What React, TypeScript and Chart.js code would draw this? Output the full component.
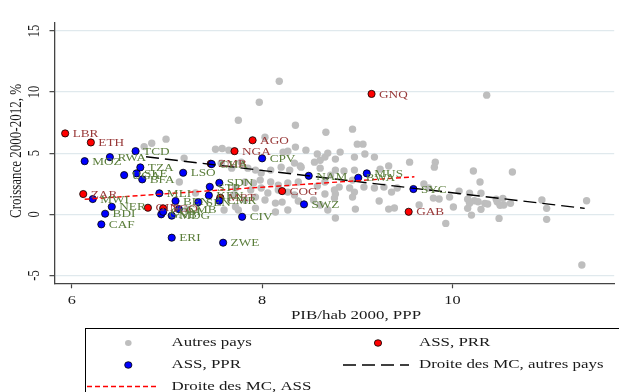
import React, { useEffect, useRef } from "react";
import { Chart, registerables } from "chart.js";

Chart.register(...registerables);

// ---------- data ----------
const xTicks = [6, 8, 10];
const yTicks = [-5, 0, 5, 10, 15];

const xTitle = "PIB/hab 2000, PPP";
const yTitle = "Croissance 2000-2012, %";

const legendLabels = [
  "Autres pays",
  "ASS, PRR",
  "ASS, PPR",
  "Droite des MC, autres pays",
  "Droite des MC, ASS",
];

// Autres pays (grey)
const otherX = [
  8.18, 10.36, 7.97, 7.75, 8.35, 8.67, 8.95, 8.03, 6.99, 6.84, 6.76, 7.51, 7.58, 7.65, 9.0, 9.06,
  8.35, 8.27, 8.22, 8.82, 8.58, 8.66, 8.77, 8.97, 9.08, 9.18, 8.55, 8.4, 8.86, 8.97, 9.33, 9.24,
  9.55, 9.82, 9.81, 10.22, 10.63, 10.29, 8.72, 8.66, 8.58, 8.81, 8.95, 8.92, 8.97, 9.07, 9.18, 9.28,
  9.36, 9.42, 9.7, 9.75, 8.77, 8.95, 8.66, 8.21, 8.38, 9.23, 9.33, 9.39, 8.98, 8.77, 9.65, 9.8,
  9.86, 9.97, 10.07, 10.01, 10.18, 10.3, 10.16, 10.23, 10.18, 10.27, 10.34, 10.37, 10.46, 10.53, 10.47, 10.61,
  10.54, 10.16, 10.3, 10.5, 10.2, 9.93, 10.49, 10.94, 10.99, 10.99, 11.41, 11.36, 7.18, 7.13, 7.3, 7.72,
  7.21, 7.57, 7.78, 7.85, 7.93, 7.99, 8.09, 8.2, 8.29, 8.34, 8.41, 8.46, 8.61, 8.69, 8.61, 8.77,
  7.68, 7.82, 7.91, 7.98, 8.09, 8.17, 8.27, 8.38, 7.72, 7.88, 7.99, 8.06, 8.17, 8.27, 8.34, 8.76,
  7.82, 7.93, 8.03, 8.14, 8.54, 8.76, 8.61, 8.69, 7.93, 8.14, 8.27, 7.7, 7.75, 7.6,
];
const otherY = [
  10.89, 9.75, 9.17, 7.69, 7.29, 6.72, 6.97, 6.31, 6.15, 5.82, 5.54, 5.33, 5.38, 5.25, 5.74, 5.74,
  5.5, 5.17, 5.09, 5.09, 4.93, 4.68, 4.52, 4.68, 4.93, 4.68, 4.27, 3.95, 3.54, 3.62, 3.95, 3.7,
  4.27, 4.27, 3.86, 3.54, 3.46, 2.64, 3.21, 2.64, 2.31, 2.23, 2.8, 2.15, 1.82, 2.23, 2.15, 2.23,
  1.82, 2.15, 2.48, 2.15, 1.66, 1.41, 1.66, 1.0, 1.09, 1.09, 0.43, 0.52, 0.43, -0.3, 0.76, 1.33,
  1.25, 1.41, 1.9, 0.6, 1.72, 1.72, 1.23, 1.11, 0.9, 1.03, 0.9, 0.84, 1.23, 1.31, 1.03, 0.9,
  0.76, 0.49, 0.41, 0.74, -0.06, -0.74, -0.33, 1.17, 0.49, -0.41, 1.11, -4.14, 4.6, 2.64, 1.74, 0.62,
  0.43, 4.18, 4.27, 3.78, 3.62, 3.38, 3.62, 3.86, 3.62, 4.19, 3.86, 5.25, 4.43, 5.01, 3.78, 3.62,
  3.78, 2.64, 2.56, 2.8, 2.64, 2.39, 2.56, 2.64, 2.15, 1.99, 2.15, 1.74, 1.99, 1.82, 1.58, 1.99,
  1.17, 1.41, 1.17, 0.92, 1.17, 1.33, 0.76, 0.35, 0.51, 0.19, 0.35, 1.58, 0.35, 0.35,
];

// ASS, PRR (red)
const prrCodes = ["LBR", "ETH", "ZAR", "GIN", "TGO", "ZMB", "MRT", "NGA", "AGO", "COG", "GNQ", "GAB"];
const prrX = [5.93, 6.2, 6.12, 6.8, 6.96, 7.46, 7.56, 7.71, 7.9, 8.21, 9.15, 9.54];
const prrY = [6.62, 5.88, 1.66, 0.54, 0.49, 4.14, 1.36, 5.17, 6.06, 1.9, 9.85, 0.21];

// ASS, PPR (blue)
const pprCodes = [
  "TCD", "RWA", "MOZ", "TZA", "SLE", "UGA", "BFA", "LSO", "MWI", "MLI", "NER", "BDI", "CAF",
  "ERI", "ZWE", "CIV", "CPV", "GHA", "SDN", "STP", "KEN", "CMR", "BEN", "SEN", "GMB", "MDG",
  "GNB", "COM", "NAM", "SWZ", "MUS", "BWA", "SYC",
];
const pprX = [
  6.67, 6.4, 6.135, 6.72, 6.68, 6.55, 6.74, 7.17, 6.22, 6.92, 6.42, 6.35, 6.31,
  7.05, 7.59, 7.79, 8.0, 7.47, 7.55, 7.45, 7.44, 7.55, 7.09, 7.33, 7.125, 7.05,
  6.94, 6.96, 8.49, 8.44, 9.1, 9.01, 9.59,
];
const pprY = [
  5.17, 4.68, 4.35, 3.84, 3.35, 3.21, 2.86, 3.4, 1.25, 1.72, 0.62, 0.05, -0.82,
  -1.91, -2.32, -0.2, 4.58, 4.11, 2.58, 2.25, 1.55, 1.11, 1.09, 1.0, 0.43, -0.11,
  0.0, 0.21, 3.15, 0.82, 3.35, 2.99, 2.07,
];

// OLS lines
const fitOtherX = [6.78, 11.39];
const fitOtherY = [4.71, 0.49];
const fitSsaX = [6.135, 9.6];
const fitSsaY = [1.23, 3.07];

// ---------- styling ----------
const STRETCH = 1.3;
const SERIF = '"Liberation Serif", "DejaVu Serif", serif';
const RED_TXT = "#983838";
const GREEN_TXT = "#5a7d3a";
const GREY = "#bebebe";

function pts(xs: number[], ys: number[]) {
  return xs.map((x, i) => ({ x, y: ys[i] }));
}

function txt(
  ctx: CanvasRenderingContext2D,
  s: string,
  x: number,
  y: number,
  size: number,
  color: string,
  align: CanvasTextAlign = "left",
  rot = 0
) {
  ctx.save();
  ctx.translate(x, y);
  ctx.scale(STRETCH, 1);
  if (rot) ctx.rotate(rot);
  ctx.font = `${size}px ${SERIF}`;
  ctx.fillStyle = color;
  ctx.textAlign = align;
  ctx.textBaseline = "middle";
  ctx.fillText(s, 0, 0);
  ctx.restore();
}

const labelPlugin = {
  id: "pointLabels",
  afterDatasetsDraw(chart: any) {
    const ctx = chart.ctx as CanvasRenderingContext2D;
    const sets: [number, string[], string][] = [
      [1, prrCodes, RED_TXT],
      [2, pprCodes, GREEN_TXT],
    ];
    for (const [idx, codes, color] of sets) {
      const meta = chart.getDatasetMeta(idx);
      meta.data.forEach((el: any, i: number) => {
        txt(ctx, codes[i], el.x + 7.5, el.y + 1, 10.2, color, "left");
      });
    }
  },
};

const axesLegendPlugin = {
  id: "axesLegend",
  afterDraw(chart: any) {
    const ctx = chart.ctx as CanvasRenderingContext2D;
    const xs = chart.scales.x;
    const ys = chart.scales.y;
    const ink = "#1a1a1a";
    // tick labels
    xTicks.forEach((v) => txt(ctx, String(v), xs.getPixelForValue(v), 301, 12.5, ink, "center"));
    yTicks.forEach((v) =>
      txt(ctx, String(v), 35 / STRETCH * STRETCH, ys.getPixelForValue(v), 12.5, ink, "center", -Math.PI / 2)
    );
    // titles
    txt(ctx, xTitle, 356, 316, 13, ink, "center");
    txt(ctx, yTitle, 17, 151, 13, ink, "center", -Math.PI / 2);

    // legend box
    ctx.save();
    ctx.strokeStyle = "#000";
    ctx.lineWidth = 1;
    ctx.strokeRect(85.5, 328.5, 700, 120);
    ctx.restore();

    const dot = (x: number, y: number, r: number, fill: string, stroke: boolean) => {
      ctx.save();
      ctx.beginPath();
      ctx.ellipse(x, y, r * 1.1, r, 0, 0, Math.PI * 2);
      ctx.fillStyle = fill;
      ctx.fill();
      if (stroke) {
        ctx.strokeStyle = "#000";
        ctx.lineWidth = 0.8;
        ctx.stroke();
      }
      ctx.restore();
    };
    const seg = (x1: number, x2: number, y: number, color: string, dash: number[]) => {
      ctx.save();
      ctx.beginPath();
      ctx.setLineDash(dash);
      ctx.strokeStyle = color;
      ctx.lineWidth = 1.3;
      ctx.moveTo(x1, y);
      ctx.lineTo(x2, y);
      ctx.stroke();
      ctx.restore();
    };
    const r1 = 343, r2 = 365, r3 = 386.5;
    dot(128.3, r1, 3, GREY, false);
    txt(ctx, legendLabels[0], 171.5, r1, 13, ink);
    dot(378, r1, 3.3, "#ff0000", true);
    txt(ctx, legendLabels[1], 419, r1, 13, ink);
    dot(128.3, r2, 3.3, "#0000ff", true);
    txt(ctx, legendLabels[2], 171.5, r2, 13, ink);
    seg(343, 409, r2, "#000", [13, 6]);
    txt(ctx, legendLabels[3], 419, r2, 13, ink);
    seg(87, 158.5, r3, "#ff0000", [5, 3]);
    txt(ctx, legendLabels[4], 171.5, r3, 13, ink);
  },
};

export default function App() {
  const ref = useRef<HTMLCanvasElement | null>(null);

  useEffect(() => {
    if (!ref.current) return;
    const chart = new Chart(ref.current, {
      type: "scatter",
      data: {
        datasets: [
          {
            label: legendLabels[0],
            data: pts(otherX, otherY),
            backgroundColor: GREY,
            borderWidth: 0,
            pointRadius: 3.7,
            order: 5,
          },
          {
            label: legendLabels[1],
            data: pts(prrX, prrY),
            backgroundColor: "#ff0000",
            borderColor: "#000",
            borderWidth: 0.8,
            pointRadius: 3.6,
            order: 4,
          },
          {
            label: legendLabels[2],
            data: pts(pprX, pprY),
            backgroundColor: "#0000ff",
            borderColor: "#000",
            borderWidth: 0.8,
            pointRadius: 3.6,
            order: 3,
          },
          {
            label: legendLabels[3],
            data: pts(fitOtherX, fitOtherY),
            showLine: true,
            borderColor: "#000",
            borderWidth: 1.4,
            borderDash: [13, 6],
            pointRadius: 0,
            order: 2,
          },
          {
            label: legendLabels[4],
            data: pts(fitSsaX, fitSsaY),
            showLine: true,
            borderColor: "#ff0000",
            borderWidth: 1.4,
            borderDash: [5, 3],
            pointRadius: 0,
            order: 1,
          },
        ] as any,
      },
      options: {
        animation: false,
        responsive: false,
        devicePixelRatio: 1,
        layout: { padding: { top: 23, left: 0, right: 0, bottom: 0 } },
        plugins: { legend: { display: false }, tooltip: { enabled: false } },
        scales: {
          x: {
            type: "linear",
            min: 5.818,
            max: 11.7,
            afterBuildTicks: (s: any) => {
              s.ticks = xTicks.map((v) => ({ value: v }));
            },
            afterFit: (s: any) => {
              s.height = 108.7;
            },
            ticks: { display: false },
            grid: {
              drawOnChartArea: false,
              drawTicks: true,
              tickLength: 5,
              tickColor: "#444",
              tickWidth: 1.2,
            },
            border: { color: "#444", width: 1.3 },
          },
          y: {
            type: "linear",
            min: -5.64,
            max: 15.65,
            afterBuildTicks: (s: any) => {
              s.ticks = yTicks.map((v) => ({ value: v }));
            },
            afterFit: (s: any) => {
              s.width = 54.5;
            },
            ticks: { display: false },
            grid: {
              color: "#e0e9ed",
              lineWidth: 1.3,
              drawTicks: true,
              tickLength: 5,
              tickColor: "#444",
              tickWidth: 1.2,
            },
            border: { color: "#444", width: 1.3 },
          },
        },
      } as any,
      plugins: [labelPlugin, axesLegendPlugin],
    });
    return () => chart.destroy();
  }, []);

  return (
    <div style={{ position: "absolute", left: 0, top: 0, width: 619, height: 392, background: "#fff" }}>
      <canvas ref={ref} width={619} height={392} style={{ display: "block" }} />
    </div>
  );
}
